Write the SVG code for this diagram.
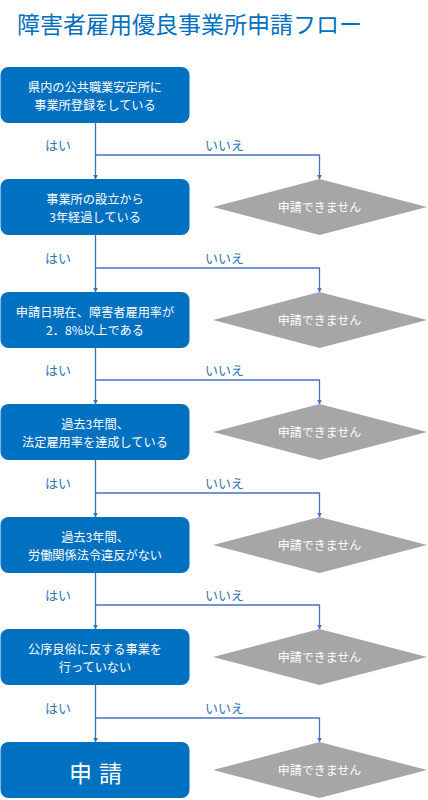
<svg xmlns="http://www.w3.org/2000/svg" width="428" height="800" viewBox="0 0 428 800">
<defs>
<style>
.box{fill:#0070c0;}
.dia{fill:#a6a6a6;}
.bt{font-family:"Noto Sans CJK JP","Noto Sans",sans-serif;font-size:12.2px;fill:#ffffff;text-anchor:middle;}
.dt{font-family:"Noto Sans CJK JP","Noto Sans",sans-serif;font-size:12px;fill:#ffffff;text-anchor:middle;}
.lbl{font-family:"Noto Sans CJK JP","Noto Sans",sans-serif;font-size:13px;fill:#2e75b6;}
.vline{stroke:#2e75b6;stroke-width:1.3;fill:none;}
.hline{stroke:#4472c4;stroke-width:1.3;fill:none;}
</style>
<marker id="ah" viewBox="0 0 10 10" refX="9" refY="5" markerWidth="5" markerHeight="5" orient="auto" markerUnits="userSpaceOnUse">
<path d="M0,0 L10,5 L0,10 z" fill="#2e75b6"/>
</marker>
<marker id="ah2" viewBox="0 0 10 10" refX="9" refY="5" markerWidth="5" markerHeight="5" orient="auto" markerUnits="userSpaceOnUse">
<path d="M0,0 L10,5 L0,10 z" fill="#4472c4"/>
</marker>
</defs>
<rect width="428" height="800" fill="#ffffff"/>
<text x="17" y="33" font-family="'Noto Sans CJK JP','Noto Sans',sans-serif" font-size="23" fill="#0070c0">障害者雇用優良事業所申請フロー</text>

<g id="connectors">
<line class="vline" x1="95.5" y1="123" x2="95.5" y2="179" marker-end="url(#ah)"/>
<polyline class="hline" points="95.5,155 319.5,155 319.5,179" marker-end="url(#ah2)"/>
<line class="vline" x1="95.5" y1="235" x2="95.5" y2="292" marker-end="url(#ah)"/>
<polyline class="hline" points="95.5,268 319.5,268 319.5,292" marker-end="url(#ah2)"/>
<line class="vline" x1="95.5" y1="348" x2="95.5" y2="404" marker-end="url(#ah)"/>
<polyline class="hline" points="95.5,380 319.5,380 319.5,404" marker-end="url(#ah2)"/>
<line class="vline" x1="95.5" y1="460" x2="95.5" y2="517" marker-end="url(#ah)"/>
<polyline class="hline" points="95.5,493 319.5,493 319.5,517" marker-end="url(#ah2)"/>
<line class="vline" x1="95.5" y1="573" x2="95.5" y2="629" marker-end="url(#ah)"/>
<polyline class="hline" points="95.5,605 319.5,605 319.5,629" marker-end="url(#ah2)"/>
<line class="vline" x1="95.5" y1="685" x2="95.5" y2="742" marker-end="url(#ah)"/>
<polyline class="hline" points="95.5,718 319.5,718 319.5,742" marker-end="url(#ah2)"/>
<text class="lbl" x="45" y="150">はい</text><text class="lbl" x="205" y="150">いいえ</text>
<text class="lbl" x="45" y="263">はい</text><text class="lbl" x="205" y="263">いいえ</text>
<text class="lbl" x="45" y="375">はい</text><text class="lbl" x="205" y="375">いいえ</text>
<text class="lbl" x="45" y="488">はい</text><text class="lbl" x="205" y="488">いいえ</text>
<text class="lbl" x="45" y="600">はい</text><text class="lbl" x="205" y="600">いいえ</text>
<text class="lbl" x="45" y="713">はい</text><text class="lbl" x="205" y="713">いいえ</text>
</g>

<g id="n1"><rect class="box" x="0.5" y="67" width="189" height="56" rx="8"/>
<text class="bt" x="95" y="91.5">県内の公共職業安定所に</text><text class="bt" x="95" y="109.5">事業所登録をしている</text></g>
<g id="n2"><rect class="box" x="0.5" y="179" width="189" height="56" rx="8"/>
<text class="bt" x="95" y="203.5">事業所の設立から</text><text class="bt" x="95" y="221.5">3年経過している</text></g>
<g id="n3"><rect class="box" x="0.5" y="292" width="189" height="56" rx="8"/>
<text class="bt" x="95" y="316.5">申請日現在、障害者雇用率が</text><text class="bt" x="95" y="334.5">2．8%以上である</text></g>
<g id="n4"><rect class="box" x="0.5" y="404" width="189" height="56" rx="8"/>
<text class="bt" x="95" y="428.5">過去3年間、</text><text class="bt" x="95" y="446.5">法定雇用率を達成している</text></g>
<g id="n5"><rect class="box" x="0.5" y="517" width="189" height="56" rx="8"/>
<text class="bt" x="95" y="541.5">過去3年間、</text><text class="bt" x="95" y="559.5">労働関係法令違反がない</text></g>
<g id="n6"><rect class="box" x="0.5" y="629" width="189" height="56" rx="8"/>
<text class="bt" x="95" y="653.5">公序良俗に反する事業を</text><text class="bt" x="95" y="671.5">行っていない</text></g>
<g id="n7"><rect class="box" x="0.5" y="742" width="189" height="56" rx="8"/>
<text x="96" y="782" font-family="'Noto Sans CJK JP','Noto Sans',sans-serif" font-size="23" letter-spacing="1" fill="#ffffff" text-anchor="middle">申 請</text></g>

<g id="d1"><polygon class="dia" points="213,207 319.5,179 427,207 319.5,235"/><text class="dt" x="319.5" y="211.5">申請できません</text></g>
<g id="d2"><polygon class="dia" points="213,320 319.5,292 427,320 319.5,348"/><text class="dt" x="319.5" y="324.5">申請できません</text></g>
<g id="d3"><polygon class="dia" points="213,432 319.5,404 427,432 319.5,460"/><text class="dt" x="319.5" y="436.5">申請できません</text></g>
<g id="d4"><polygon class="dia" points="213,545 319.5,517 427,545 319.5,573"/><text class="dt" x="319.5" y="549.5">申請できません</text></g>
<g id="d5"><polygon class="dia" points="213,657 319.5,629 427,657 319.5,685"/><text class="dt" x="319.5" y="661.5">申請できません</text></g>
<g id="d6"><polygon class="dia" points="213,770 319.5,742 427,770 319.5,798"/><text class="dt" x="319.5" y="774.5">申請できません</text></g>
</svg>
